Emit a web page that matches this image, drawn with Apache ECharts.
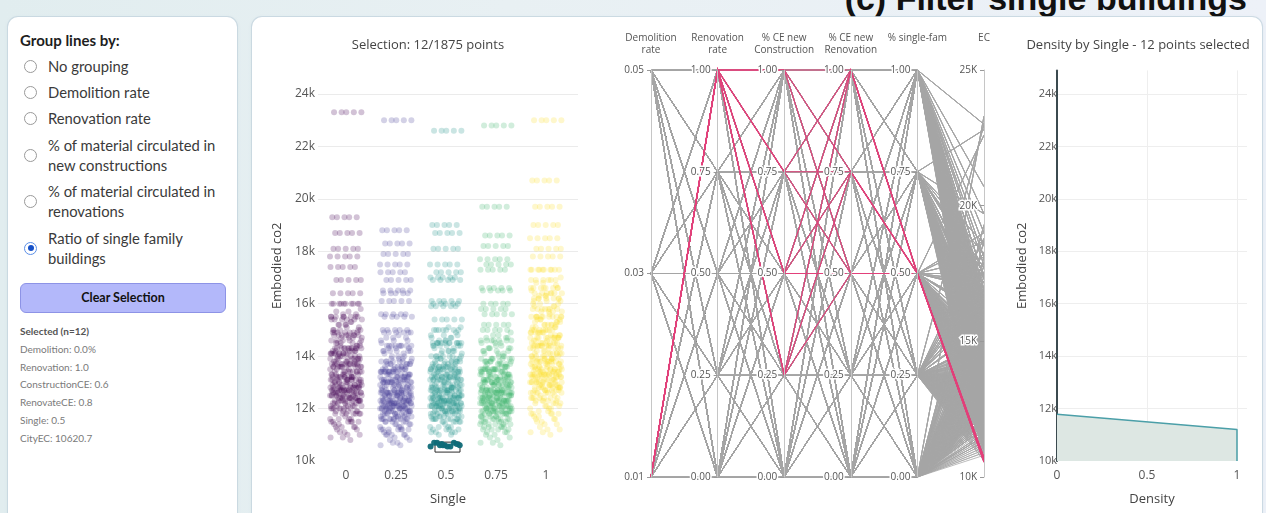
<!DOCTYPE html>
<html>
<head>
<meta charset="utf-8">
<script src="https://cdn.jsdelivr.net/npm/echarts@6/dist/echarts.min.js"></script>
<style>
html,body{margin:0;padding:0;}
body{width:1266px;height:513px;overflow:hidden;position:relative;
 background:linear-gradient(90deg,#e1edef 0%,#e8f0f3 40%,#edf1f8 100%);}
.panel{position:absolute;background:#fff;border-radius:10px;
 box-shadow:0 0 0 1px rgba(196,212,222,0.8),0 1px 4px rgba(120,140,160,0.12);}
#title{position:absolute;right:19px;top:-19px;font:bold 34px/34px "Liberation Sans",Arial,sans-serif;color:#111;white-space:nowrap;}
#ctrl{position:absolute;left:0;top:0;width:240px;height:513px;font-family:Lato,"Noto Sans",sans-serif;color:#333;}
#ctrl .t{position:absolute;white-space:nowrap;}
.hdr{left:20px;top:30px;font-size:15px;line-height:20px;font-weight:bold;color:#1e1e1e;}
.lbl{left:48px;font-size:14.8px;line-height:20px;color:#3a3a3a;}
.rad{position:absolute;left:24px;width:11px;height:11px;border:1px solid #9a9a9a;border-radius:50%;background:#fff;}
.rad.on{border-color:#5b8fe8;}
.rad.on::after{content:"";position:absolute;left:2.5px;top:2.5px;width:6px;height:6px;border-radius:50%;background:#1550c8;}
#btn{position:absolute;left:20px;top:283px;width:204px;height:28px;background:#b3b8fa;border:1px solid #8d93e6;border-radius:6px;font:bold 12.5px/28px Lato,"Noto Sans",sans-serif;color:#111;text-align:center;}
#sel{position:absolute;left:20px;top:323px;font-size:10px;line-height:17.8px;color:#7a7a7a;white-space:nowrap;}
#sel b{color:#555;}
#chart{position:absolute;left:0;top:0;width:1266px;height:513px;}
</style>
</head>
<body>
<div id="title">(c) Filter single buildings</div>
<div class="panel" style="left:8px;top:17px;width:229px;height:520px"></div>
<div class="panel" style="left:252px;top:17px;width:1010px;height:520px"></div>
<div id="ctrl">
  <div class="t hdr">Group lines by:</div>
  <span class="rad" style="top:59.5px"></span><div class="t lbl" style="top:56px">No grouping</div>
  <span class="rad" style="top:85.5px"></span><div class="t lbl" style="top:82px">Demolition rate</div>
  <span class="rad" style="top:111.5px"></span><div class="t lbl" style="top:108px">Renovation rate</div>
  <span class="rad" style="top:148.5px"></span><div class="t lbl" style="top:135px">% of material circulated in<br>new constructions</div>
  <span class="rad" style="top:194.5px"></span><div class="t lbl" style="top:181px">% of material circulated in<br>renovations</div>
  <span class="rad on" style="top:241.5px"></span><div class="t lbl" style="top:228px">Ratio of single family<br>buildings</div>
  <div id="btn">Clear Selection</div>
  <div id="sel"><b>Selected (n=12)</b><br>Demolition: 0.0%<br>Renovation: 1.0<br>ConstructionCE: 0.6<br>RenovateCE: 0.8<br>Single: 0.5<br>CityEC: 10620.7</div>
</div>
<div id="chart"></div>
<script>
// ---- design levels (full factorial: 3 x 5 x 5 x 5 x 5 = 1875 runs) ----
const singleLevels = [0, 0.25, 0.5, 0.75, 1];
const demolitionLevels = [0.01, 0.03, 0.05];
const shareLevels = [0, 0.25, 0.5, 0.75, 1];

// Embodied CO2 (thousands) per run, one array per single-family ratio.
// Run order inside each array: demolition, renovation, CE new construction, CE renovation.
const ecSingle0 = [
17.8,17.8,17.8,17.8,17.8,16.4,16.4,16.4,16.4,16.4,15.5,15.5,15.5,15.5,15.5,14.8,14.8,14.8,14.8,14.8,14.3,14.3,14.3,14.3,14.3,
13.2,13.1,13.1,13.0,12.9,13.1,13.0,12.9,12.8,12.8,12.9,12.8,12.8,12.7,12.6,12.8,12.7,12.6,12.5,12.5,12.6,12.5,12.5,12.4,12.3,
13.0,12.9,12.7,12.6,12.4,12.9,12.7,12.6,12.4,12.3,12.7,12.6,12.4,12.3,12.1,12.6,12.4,12.3,12.1,12.0,12.4,12.3,12.1,12.0,11.8,
12.9,12.6,12.4,12.1,11.9,12.7,12.5,12.2,12.0,11.8,12.6,12.3,12.1,11.8,11.6,12.4,12.2,11.9,11.7,11.5,12.3,12.0,11.8,11.5,11.3,
12.4,11.9,11.5,11.5,11.4,12.3,11.8,11.4,11.3,11.3,12.1,11.6,11.2,11.2,11.1,12.0,11.5,11.1,11.0,11.0,11.8,11.3,10.9,10.9,10.8,
18.1,18.1,18.1,18.1,18.1,16.9,16.9,16.9,16.9,16.9,16.0,16.0,16.0,16.0,16.0,15.4,15.4,15.4,15.4,15.4,14.9,14.9,14.9,14.9,14.9,
14.5,14.4,14.4,14.3,14.2,14.2,14.1,14.1,14.0,13.9,13.9,13.8,13.8,13.7,13.6,13.6,13.5,13.5,13.4,13.3,13.3,13.2,13.2,13.1,13.0,
14.3,14.2,14.0,13.9,13.7,14.0,13.9,13.7,13.6,13.4,13.7,13.6,13.4,13.3,13.1,13.4,13.3,13.1,13.0,12.8,13.1,13.0,12.8,12.7,12.5,
14.2,13.9,13.7,13.4,13.2,13.9,13.6,13.4,13.1,12.9,13.6,13.3,13.1,12.8,12.6,13.3,13.0,12.8,12.5,12.3,13.0,12.7,12.5,12.2,12.0,
13.7,13.2,12.8,12.8,12.7,13.4,12.9,12.5,12.5,12.4,13.1,12.6,12.2,12.2,12.1,12.8,12.3,11.9,11.9,11.8,12.5,12.0,11.6,11.6,11.5,
23.3,23.3,23.3,23.3,23.3,19.3,19.3,19.3,19.3,19.3,18.7,18.7,18.7,18.7,18.7,17.4,17.4,17.4,17.4,17.4,16.0,16.0,16.0,16.0,16.0,
15.8,15.7,15.7,15.6,15.5,15.4,15.3,15.2,15.1,15.1,14.9,14.8,14.8,14.7,14.6,14.5,14.4,14.3,14.2,14.2,14.0,13.9,13.9,13.8,13.7,
15.6,15.5,15.3,15.2,15.0,15.2,15.0,14.9,14.7,14.6,14.7,14.6,14.4,14.3,14.1,14.3,14.1,14.0,13.8,13.7,13.8,13.7,13.5,13.4,13.2,
15.5,15.2,15.0,14.7,14.5,15.0,14.8,14.5,14.3,14.1,14.6,14.3,14.1,13.8,13.6,14.1,13.9,13.6,13.4,13.2,13.7,13.4,13.2,12.9,12.7,
15.0,14.5,14.1,14.1,14.0,14.6,14.1,13.7,13.6,13.6,14.1,13.6,13.2,13.2,13.1,13.7,13.2,12.8,12.7,12.7,13.2,12.7,12.3,12.3,12.2
];
const ecSingle025 = [
17.5,17.5,17.5,17.5,17.5,16.5,16.5,16.5,16.5,16.5,15.6,15.6,15.6,15.6,15.6,14.9,14.9,14.9,14.9,14.9,14.4,14.4,14.4,14.4,14.4,
12.7,12.6,12.5,12.5,12.4,12.5,12.5,12.4,12.3,12.3,12.4,12.3,12.3,12.2,12.1,12.3,12.2,12.2,12.1,12.0,12.2,12.1,12.0,12.0,11.9,
12.5,12.4,12.2,12.1,12.0,12.4,12.3,12.1,12.0,11.8,12.3,12.1,12.0,11.9,11.7,12.1,12.0,11.9,11.7,11.6,12.0,11.9,11.7,11.6,11.5,
12.4,12.2,12.0,11.8,11.6,12.2,12.0,11.8,11.6,11.4,12.1,11.9,11.7,11.5,11.3,12.0,11.8,11.6,11.4,11.2,11.9,11.6,11.4,11.2,11.0,
12.0,11.6,11.2,11.2,11.1,11.8,11.4,11.1,11.0,11.0,11.7,11.3,11.0,10.9,10.9,11.6,11.2,10.8,10.8,10.7,11.5,11.0,10.7,10.6,10.6,
17.9,17.9,17.9,17.9,17.9,16.9,16.9,16.9,16.9,16.9,16.1,16.1,16.1,16.1,16.1,15.5,15.5,15.5,15.5,15.5,15.0,15.0,15.0,15.0,15.0,
13.8,13.7,13.7,13.6,13.5,13.5,13.5,13.4,13.3,13.3,13.3,13.2,13.1,13.1,13.0,13.0,12.9,12.9,12.8,12.7,12.8,12.7,12.6,12.6,12.5,
13.6,13.5,13.4,13.2,13.1,13.4,13.2,13.1,13.0,12.8,13.1,13.0,12.8,12.7,12.6,12.9,12.7,12.6,12.5,12.3,12.6,12.5,12.3,12.2,12.1,
13.5,13.3,13.1,12.9,12.7,13.2,13.0,12.8,12.6,12.4,13.0,12.8,12.6,12.4,12.2,12.7,12.5,12.3,12.1,11.9,12.5,12.2,12.0,11.8,11.6,
13.1,12.7,12.3,12.3,12.2,12.8,12.4,12.1,12.0,12.0,12.6,12.2,11.8,11.8,11.7,12.3,11.9,11.6,11.5,11.5,12.1,11.6,11.3,11.2,11.2,
23.0,23.0,23.0,23.0,23.0,18.8,18.8,18.8,18.8,18.8,18.3,18.3,18.3,18.3,18.3,17.2,17.2,17.2,17.2,17.2,16.4,16.4,16.4,16.4,16.4,
14.9,14.8,14.7,14.7,14.6,14.5,14.4,14.4,14.3,14.2,14.1,14.0,14.0,13.9,13.8,13.7,13.7,13.6,13.5,13.5,13.3,13.3,13.2,13.1,13.1,
14.7,14.6,14.4,14.3,14.2,14.3,14.2,14.1,13.9,13.8,13.9,13.8,13.7,13.5,13.4,13.6,13.4,13.3,13.2,13.0,13.2,13.1,12.9,12.8,12.6,
14.6,14.4,14.2,13.9,13.7,14.2,14.0,13.8,13.6,13.4,13.8,13.6,13.4,13.2,13.0,13.4,13.2,13.0,12.8,12.6,13.0,12.8,12.6,12.4,12.2,
14.2,13.7,13.4,13.4,13.3,13.8,13.4,13.0,13.0,12.9,13.4,13.0,12.6,12.6,12.6,13.0,12.6,12.3,12.2,12.2,12.6,12.2,11.9,11.8,11.8
];
const ecSingle05 = [
17.5,17.5,17.5,17.5,17.5,16.9,16.9,16.9,16.9,16.9,15.9,15.9,15.9,15.9,15.9,15.0,15.0,15.0,15.0,15.0,14.5,14.5,14.5,14.5,14.5,
12.8,12.7,12.6,12.6,12.5,12.7,12.6,12.5,12.4,12.4,12.5,12.4,12.4,12.3,12.2,12.4,12.3,12.2,12.2,12.1,12.2,12.2,12.1,12.0,12.0,
12.6,12.5,12.3,12.2,12.0,12.5,12.3,12.2,12.1,11.9,12.4,12.2,12.1,11.9,11.8,12.2,12.1,11.9,11.8,11.6,12.1,11.9,11.8,11.6,11.5,
12.5,12.2,12.0,11.8,11.6,12.3,12.1,11.9,11.7,11.5,12.2,12.0,11.8,11.5,11.3,12.1,11.8,11.6,11.4,11.2,11.9,11.7,11.5,11.3,11.1,
12.0,11.5,11.1,11.0,11.0,11.7,11.2,10.7,10.7,10.65,11.7,11.2,10.7,10.65,10.6,11.6,11.1,10.6,10.6,10.55,11.6,11.1,10.6,10.55,10.55,
18.1,18.1,18.1,18.1,18.1,17.2,17.2,17.2,17.2,17.2,16.1,16.1,16.1,16.1,16.1,15.4,15.4,15.4,15.4,15.4,14.5,14.5,14.5,14.5,14.5,
14.0,13.9,13.8,13.7,13.7,13.7,13.6,13.5,13.5,13.4,13.4,13.3,13.3,13.2,13.1,13.1,13.1,13.0,12.9,12.9,12.9,12.8,12.7,12.7,12.6,
13.8,13.6,13.5,13.4,13.2,13.5,13.4,13.2,13.1,12.9,13.3,13.1,13.0,12.8,12.7,13.0,12.8,12.7,12.5,12.4,12.7,12.6,12.4,12.3,12.1,
13.6,13.4,13.2,13.0,12.8,13.4,13.1,12.9,12.7,12.5,13.1,12.9,12.7,12.4,12.2,12.8,12.6,12.4,12.2,12.0,12.5,12.3,12.1,11.9,11.7,
13.2,12.8,12.4,12.4,12.3,12.9,12.5,12.1,12.1,12.0,12.7,12.2,11.9,11.8,11.8,12.4,12.0,11.6,11.6,11.5,12.1,11.7,11.3,11.3,11.2,
22.6,22.6,22.6,22.6,22.6,19.0,19.0,19.0,19.0,19.0,18.7,18.7,18.7,18.7,18.7,17.0,17.0,17.0,17.0,17.0,16.0,16.0,16.0,16.0,16.0,
15.1,15.1,15.0,14.9,14.8,14.7,14.7,14.6,14.5,14.4,14.3,14.2,14.2,14.1,14.0,13.9,13.8,13.8,13.7,13.6,13.5,13.4,13.4,13.3,13.2,
15.0,14.8,14.7,14.5,14.4,14.6,14.4,14.3,14.1,14.0,14.2,14.0,13.9,13.7,13.6,13.8,13.6,13.5,13.3,13.2,13.3,13.2,13.1,12.9,12.8,
14.8,14.6,14.4,14.2,13.9,14.4,14.2,14.0,13.8,13.5,14.0,13.8,13.6,13.3,13.1,13.6,13.4,13.2,12.9,12.7,13.2,13.0,12.7,12.5,12.3,
14.4,13.9,13.6,13.5,13.5,14.0,13.5,13.2,13.1,13.1,13.6,13.1,12.8,12.7,12.7,13.2,12.7,12.4,12.3,12.3,12.8,12.3,12.0,11.9,11.9
];
const ecSingle075 = [
17.7,17.7,17.7,17.7,17.7,16.5,16.5,16.5,16.5,16.5,15.8,15.8,15.8,15.8,15.8,15.2,15.2,15.2,15.2,15.2,14.6,14.6,14.6,14.6,14.6,
12.9,12.8,12.7,12.7,12.6,12.7,12.6,12.5,12.5,12.4,12.5,12.4,12.3,12.3,12.2,12.3,12.2,12.1,12.1,12.0,12.1,12.0,11.9,11.9,11.8,
12.8,12.6,12.5,12.3,12.2,12.6,12.4,12.3,12.1,12.0,12.4,12.2,12.1,11.9,11.8,12.2,12.0,11.9,11.7,11.6,12.0,11.8,11.7,11.5,11.4,
12.7,12.5,12.2,12.0,11.8,12.5,12.3,12.0,11.8,11.6,12.3,12.1,11.8,11.6,11.4,12.1,11.9,11.6,11.4,11.2,11.9,11.7,11.4,11.2,11.0,
12.3,11.9,11.5,11.5,11.4,12.1,11.7,11.3,11.3,11.2,11.9,11.5,11.1,11.1,11.0,11.7,11.3,10.9,10.9,10.8,11.5,11.1,10.7,10.7,10.6,
18.2,18.2,18.2,18.2,18.2,17.5,17.5,17.5,17.5,17.5,16.6,16.6,16.6,16.6,16.6,15.6,15.6,15.6,15.6,15.6,15.0,15.0,15.0,15.0,15.0,
13.9,13.8,13.7,13.7,13.6,13.6,13.5,13.4,13.4,13.3,13.3,13.2,13.1,13.1,13.0,13.0,12.9,12.8,12.8,12.7,12.7,12.6,12.5,12.5,12.4,
13.8,13.6,13.5,13.3,13.2,13.5,13.3,13.2,13.0,12.9,13.2,13.0,12.9,12.7,12.6,12.9,12.7,12.6,12.4,12.3,12.6,12.4,12.3,12.1,12.0,
13.7,13.5,13.2,13.0,12.8,13.4,13.2,12.9,12.7,12.5,13.1,12.9,12.6,12.4,12.2,12.8,12.6,12.3,12.1,11.9,12.5,12.3,12.0,11.8,11.6,
13.3,12.9,12.5,12.5,12.4,13.0,12.6,12.2,12.2,12.1,12.7,12.3,11.9,11.9,11.8,12.4,12.0,11.6,11.6,11.5,12.1,11.7,11.3,11.3,11.2,
22.8,22.8,22.8,22.8,22.8,19.7,19.7,19.7,19.7,19.7,18.6,18.6,18.6,18.6,18.6,17.3,17.3,17.3,17.3,17.3,16.0,16.0,16.0,16.0,16.0,
14.9,14.8,14.7,14.7,14.6,14.5,14.4,14.3,14.3,14.2,14.1,14.0,13.9,13.9,13.8,13.7,13.6,13.5,13.5,13.4,13.3,13.2,13.1,13.1,13.0,
14.8,14.6,14.5,14.3,14.2,14.4,14.2,14.1,13.9,13.8,14.0,13.8,13.7,13.5,13.4,13.6,13.4,13.3,13.1,13.0,13.2,13.0,12.9,12.7,12.6,
14.7,14.5,14.2,14.0,13.8,14.3,14.1,13.8,13.6,13.4,13.9,13.7,13.4,13.2,13.0,13.5,13.3,13.0,12.8,12.6,13.1,12.9,12.6,12.4,12.2,
14.3,13.9,13.5,13.5,13.4,13.9,13.5,13.1,13.1,13.0,13.5,13.1,12.7,12.7,12.6,13.1,12.7,12.3,12.3,12.2,12.7,12.3,11.9,11.9,11.8
];
const ecSingle1 = [
18.5,18.5,18.5,18.5,18.5,17.8,17.8,17.8,17.8,17.8,16.9,16.9,16.9,16.9,16.9,16.2,16.2,16.2,16.2,16.2,15.5,15.5,15.5,15.5,15.5,
13.9,13.8,13.7,13.6,13.5,13.7,13.6,13.5,13.4,13.3,13.5,13.5,13.4,13.3,13.2,13.4,13.3,13.2,13.1,13.0,13.2,13.1,13.0,12.9,12.8,
13.7,13.5,13.3,13.1,12.9,13.5,13.3,13.1,12.9,12.7,13.3,13.1,12.9,12.8,12.6,13.2,13.0,12.8,12.6,12.4,13.0,12.8,12.6,12.4,12.2,
13.5,13.2,12.9,12.6,12.3,13.3,13.0,12.7,12.4,12.1,13.1,12.8,12.5,12.3,12.0,12.9,12.6,12.4,12.1,11.8,12.8,12.5,12.2,11.9,11.6,
12.9,12.3,11.8,11.8,11.7,12.7,12.1,11.7,11.6,11.5,12.6,12.0,11.5,11.4,11.4,12.4,11.8,11.3,11.2,11.2,12.2,11.6,11.1,11.1,11.0,
19.0,19.0,19.0,19.0,19.0,18.1,18.1,18.1,18.1,18.1,17.3,17.3,17.3,17.3,17.3,16.4,16.4,16.4,16.4,16.4,15.8,15.8,15.8,15.8,15.8,
15.5,15.4,15.3,15.2,15.1,15.1,15.0,14.9,14.8,14.7,14.7,14.7,14.6,14.5,14.4,14.4,14.3,14.2,14.1,14.0,14.0,13.9,13.8,13.7,13.6,
15.3,15.1,14.9,14.7,14.5,14.9,14.7,14.5,14.3,14.1,14.5,14.3,14.1,14.0,13.8,14.2,14.0,13.8,13.6,13.4,13.8,13.6,13.4,13.2,13.0,
15.0,14.7,14.5,14.2,13.9,14.7,14.4,14.1,13.8,13.5,14.3,14.0,13.7,13.5,13.2,14.0,13.7,13.4,13.1,12.8,13.6,13.3,13.0,12.7,12.4,
14.5,13.9,13.4,13.3,13.3,14.1,13.5,13.0,13.0,12.9,13.8,13.2,12.7,12.6,12.6,13.4,12.8,12.3,12.3,12.2,13.0,12.4,12.0,11.9,11.8,
23.0,23.0,23.0,23.0,23.0,20.7,20.7,20.7,20.7,20.7,19.7,19.7,19.7,19.7,19.7,17.3,17.3,17.3,17.3,17.3,16.6,16.6,16.6,16.6,16.6,
17.0,16.9,16.8,16.7,16.6,16.5,16.4,16.3,16.2,16.1,15.9,15.9,15.8,15.7,15.6,15.4,15.3,15.2,15.1,15.0,14.9,14.8,14.7,14.6,14.5,
16.8,16.6,16.4,16.2,16.0,16.3,16.1,15.9,15.7,15.5,15.7,15.5,15.3,15.2,15.0,15.2,15.0,14.8,14.6,14.4,14.7,14.5,14.3,14.1,13.9,
16.6,16.3,16.0,15.7,15.4,16.1,15.8,15.5,15.2,14.9,15.5,15.2,14.9,14.7,14.4,15.0,14.7,14.4,14.1,13.8,14.4,14.1,13.9,13.6,13.3,
16.0,15.4,15.0,14.9,14.8,15.5,14.9,14.4,14.4,14.3,15.0,14.4,13.9,13.8,13.8,14.4,13.8,13.3,13.3,13.2,13.9,13.3,12.8,12.7,12.7
];
const ecBySingle = [ecSingle0, ecSingle025, ecSingle05, ecSingle075, ecSingle1];

// brushed selection on the strip plot (single = 0.5 column)
const selectBox = { single: 0.5, xMin: 0.445, xMax: 0.57, ecMin: 10.34, ecMax: 10.72 };

// density of the selection by Embodied CO2 (normalised)
const densityValue = [0, 1, 1];
const densityEC = [11.78, 11.2, 10.0];

const singleColors = ['#440154', '#463f96', '#21918c', '#3db56c', '#fadd2a'];
const parallelNames = ['Demolition\nrate', 'Renovation\nrate', '% CE new\nConstruction', '% CE new\nRenovation', '% single-fam', 'EC'];

// ---- build runs ----
const runs = [];
singleLevels.forEach((s, si) => {
  ecBySingle[si].forEach((ec, idx) => {
    runs.push({
      si, idx, s, ec,
      d: demolitionLevels[Math.floor(idx / 125)],
      r: shareLevels[Math.floor(idx / 25) % 5],
      n: shareLevels[Math.floor(idx / 5) % 5],
      c: shareLevels[idx % 5],
      sel: s === selectBox.single && ec >= selectBox.ecMin && ec <= selectBox.ecMax
    });
  });
});
const selected = runs.filter(p => p.sel);
// horizontal jitter of the strip plot (display only)
const jitter = idx => (((idx * 0.6180339887) % 1) - 0.5) * 0.16;

const FONT = 'Open Sans';
const stripSeries = singleLevels.map((s, si) => ({
  type: 'scatter', xAxisIndex: 0, yAxisIndex: 0, silent: true,
  symbolSize: 6,
  itemStyle: { color: singleColors[si], opacity: 0.24 },
  data: runs.filter(p => p.si === si && !p.sel).map(p => [p.s + jitter(p.idx), p.ec])
}));

const chart = echarts.init(document.getElementById('chart'), null, { renderer: 'canvas' });
chart.setOption({
  animation: false,
  textStyle: { fontFamily: FONT },
  title: [
    { text: 'Selection: ' + selected.length + '/' + runs.length + ' points', left: 423, top: 34, textAlign: 'center',
      textStyle: { fontSize: 13, fontWeight: 'normal', color: '#444', fontFamily: FONT } },
    { text: 'Density by Single - ' + selected.length + ' points selected', left: 1133, top: 34, textAlign: 'center',
      textStyle: { fontSize: 13, fontWeight: 'normal', color: '#444', fontFamily: FONT } }
  ],
  grid: [
    { left: 318, right: 688, top: 70.4, bottom: 52 },
    { left: 1057, right: 19, top: 70.4, bottom: 52 }
  ],
  xAxis: [
    { gridIndex: 0, type: 'value', min: -0.14, max: 1.16,
      axisLine: { show: false }, axisTick: { show: false }, splitLine: { show: false },
      axisLabel: { customValues: singleLevels, fontSize: 12, color: '#555', margin: 9 },
      name: 'Single', nameLocation: 'middle', nameGap: 32, nameTextStyle: { fontSize: 13, color: '#444' } },
    { gridIndex: 1, type: 'value', min: 0, max: 1.0556, interval: 0.5,
      axisLine: { show: false }, axisTick: { show: false },
      splitLine: { show: true, showMaxLine: false, lineStyle: { color: '#eeeeee' } },
      axisLabel: { fontSize: 12, color: '#555', margin: 9, showMaxLabel: false },
      name: 'Density', nameLocation: 'middle', nameGap: 32, nameTextStyle: { fontSize: 13, color: '#444' } }
  ],
  yAxis: [
    { gridIndex: 0, type: 'value', min: 10, max: 24.9, interval: 2,
      axisLine: { show: false }, axisTick: { show: false },
      splitLine: { show: true, showMinLine: false, showMaxLine: false, lineStyle: { color: '#ebebeb' } },
      axisLabel: { formatter: '{value}k', fontSize: 12, color: '#555', margin: 3, showMaxLabel: false },
      name: 'Embodied co2', nameLocation: 'middle', nameGap: 34, nameTextStyle: { fontSize: 13, color: '#444' } },
    { gridIndex: 1, type: 'value', min: 10, max: 24.9, interval: 2,
      axisLine: { show: true, lineStyle: { color: '#3b4a4f', width: 2 } }, axisTick: { show: false },
      splitLine: { show: true, showMinLine: false, showMaxLine: false, lineStyle: { color: '#eeeeee' } },
      axisLabel: { formatter: '{value}k', fontSize: 11, color: '#555', margin: 0, showMaxLabel: false },
      name: 'Embodied co2', nameLocation: 'middle', nameGap: 28, nameTextStyle: { fontSize: 13, color: '#444' } }
  ],
  parallel: {
    left: 651, right: 282, top: 70, bottom: 36, layout: 'horizontal',
    parallelAxisDefault: {
      type: 'value', nameLocation: 'end',
      nameTextStyle: { fontSize: 10, color: '#555', lineHeight: 12, fontFamily: FONT },
      axisLine: { lineStyle: { color: '#c6c6c6', width: 1 } },
      axisTick: { show: true, length: -4, lineStyle: { color: '#999' } },
      axisLabel: { fontSize: 10, color: '#555', margin: -7, align: 'right', textBorderColor: '#fff', textBorderWidth: 3, fontFamily: FONT },
      splitLine: { show: false }
    }
  },
  parallelAxis: parallelNames.map((name, dim) => {
    const base = { dim, name, nameGap: name.indexOf('\n') >= 0 ? 14 : 26 };
    if (dim === 0) return Object.assign(base, { min: 0.01, max: 0.05, interval: 0.02, axisLabel: { formatter: v => v.toFixed(2) } });
    if (dim === 5) return Object.assign(base, { min: 10, max: 25, interval: 5, axisLabel: { formatter: v => v + 'K' } });
    return Object.assign(base, { min: 0, max: 1, interval: 0.25, axisLabel: { formatter: v => v.toFixed(2) } });
  }),
  series: stripSeries.concat([
    { type: 'scatter', xAxisIndex: 0, yAxisIndex: 0, silent: true, symbolSize: 6, z: 4,
      itemStyle: { color: '#0f6b78', opacity: 0.95 },
      data: selected.map(p => [p.s + jitter(p.idx), p.ec]),
      markArea: { silent: true,
        itemStyle: { color: 'rgba(255,255,255,0.55)', borderColor: '#2b2b2b', borderWidth: 1 },
        data: [[{ coord: [selectBox.xMin, selectBox.ecMin] }, { coord: [selectBox.xMax, selectBox.ecMax] }]] } },
    { type: 'line', xAxisIndex: 1, yAxisIndex: 1, silent: true, symbol: 'none',
      lineStyle: { color: '#4b9fa8', width: 1.5 },
      areaStyle: { color: '#dde7e3', opacity: 1, origin: 'start' },
      data: densityValue.map((v, i) => [v, densityEC[i]]) },
    { type: 'parallel', parallelIndex: 0, silent: true, z: 2,
      lineStyle: { color: '#a6a6a6', width: 1, opacity: 0.75 },
      data: runs.filter(p => !p.sel).map(p => [p.d, p.r, p.n, p.c, p.s, p.ec]) },
    { type: 'parallel', parallelIndex: 0, silent: true, z: 3,
      lineStyle: { color: '#e2407a', width: 1.2, opacity: 1 },
      data: selected.map(p => [p.d, p.r, p.n, p.c, p.s, p.ec]) }
  ])
});
</script>
</body>
</html>
